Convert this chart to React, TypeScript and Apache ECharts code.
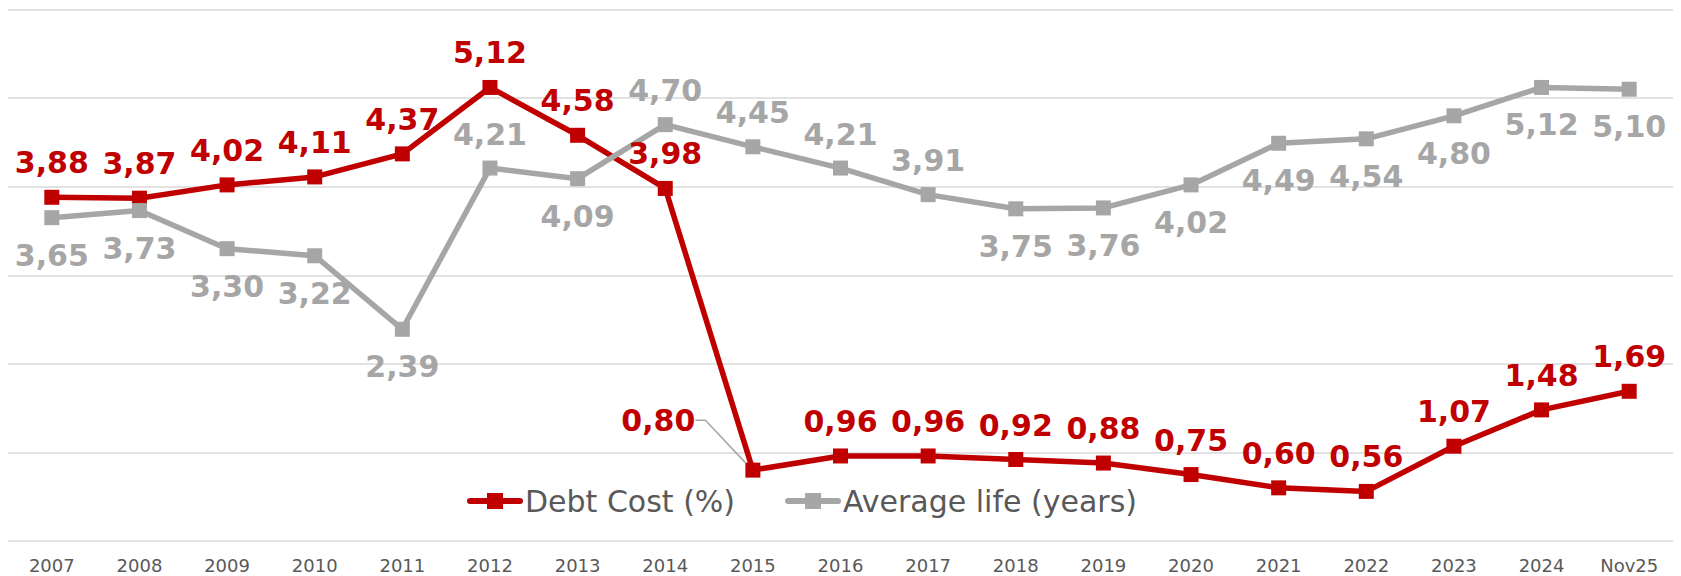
import React, { useEffect, useRef } from 'react';
import * as echarts from 'echarts';

const categories = ['2007', '2008', '2009', '2010', '2011', '2012', '2013', '2014', '2015', '2016', '2017', '2018', '2019', '2020', '2021', '2022', '2023', '2024', 'Nov25'];
const debtCost = [3.88, 3.87, 4.02, 4.11, 4.37, 5.12, 4.58, 3.98, 0.80, 0.96, 0.96, 0.92, 0.88, 0.75, 0.60, 0.56, 1.07, 1.48, 1.69];
const averageLife = [3.65, 3.73, 3.30, 3.22, 2.39, 4.21, 4.09, 4.70, 4.45, 4.21, 3.91, 3.75, 3.76, 4.02, 4.49, 4.54, 4.80, 5.12, 5.10];
const averageLifeLabelSide = ['bottom', 'bottom', 'bottom', 'bottom', 'bottom', 'top', 'bottom', 'top', 'top', 'top', 'top', 'bottom', 'bottom', 'bottom', 'bottom', 'bottom', 'bottom', 'bottom', 'bottom'];
const seriesNames = ['Debt Cost (%)', 'Average life (years)'];
const calloutCategory = '2015';

const RED = '#C00000';
const GREY = '#A6A6A6';
const FONT = 'DejaVu Sans';
const fmt = (v: number) => v.toFixed(2).replace('.', ',');

export default function App() {
  const ref = useRef<HTMLDivElement>(null);
  useEffect(() => {
    if (!ref.current) return;
    const chart = echarts.init(ref.current, undefined, { renderer: 'svg' });
    const calloutIdx = categories.indexOf(calloutCategory);
    const labelBase = { show: true, fontFamily: FONT, fontWeight: 'bold', fontSize: 30, formatter: (p: any) => fmt(p.value) };
    chart.setOption({
      animation: false,
      grid: { left: 8, right: 8, top: 9.5, bottom: 35 },
      legend: {
        data: seriesNames,
        left: 467,
        top: 486,
        padding: 0,
        itemWidth: 50,
        itemHeight: 20,
        itemGap: 50,
        textStyle: { fontFamily: FONT, fontSize: 30, color: '#595959' },
        lineStyle: { width: 6, cap: 'round' },
        selectedMode: false,
      },
      xAxis: {
        type: 'category',
        data: categories,
        boundaryGap: true,
        axisLine: { show: false },
        axisTick: { show: false },
        axisLabel: { fontFamily: FONT, fontSize: 18, color: '#595959', margin: 15, interval: 0 },
      },
      yAxis: {
        type: 'value',
        min: 0,
        max: 6,
        interval: 1,
        axisLabel: { show: false },
        axisLine: { show: false },
        axisTick: { show: false },
        splitLine: { lineStyle: { color: '#D9D9D9', width: 1.5 } },
      },
      series: [
        {
          name: seriesNames[0],
          type: 'line',
          symbol: 'rect',
          symbolSize: 15,
          showAllSymbol: true,
          color: RED,
          lineStyle: { color: RED, width: 5.5 },
          itemStyle: { color: RED },
          label: { ...labelBase, color: RED, position: 'top', distance: 12 },
          labelLayout: (p: any) => (p.dataIndex === calloutIdx ? { dx: -45, dy: -50 } : {}),
          emphasis: { disabled: true },
          data: debtCost.map((v, i) =>
            i === calloutIdx
              ? {
                  value: v,
                  label: { position: 'left', distance: 5 },
                  labelLine: { show: true, length2: 10, lineStyle: { color: GREY, width: 1.5 } },
                }
              : v
          ),
        },
        {
          name: seriesNames[1],
          type: 'line',
          symbol: 'rect',
          symbolSize: 15,
          showAllSymbol: true,
          color: GREY,
          lineStyle: { color: GREY, width: 5.5 },
          itemStyle: { color: GREY },
          label: { ...labelBase, color: GREY },
          emphasis: { disabled: true },
          data: averageLife.map((v, i) => ({
            value: v,
            label: { position: averageLifeLabelSide[i], distance: averageLifeLabelSide[i] === 'top' ? 11.5 : 15 },
          })),
        },
      ],
    });
    return () => chart.dispose();
  }, []);
  return (
    <div
      ref={ref}
      style={{ position: 'fixed', left: 0, top: 0, width: 1681, height: 576, background: '#fff' }}
    />
  );
}
